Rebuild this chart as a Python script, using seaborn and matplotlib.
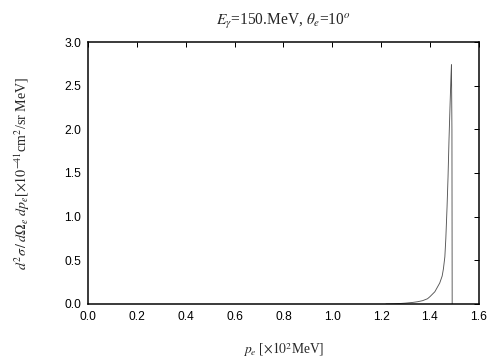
import numpy as np
import pandas as pd
import matplotlib
matplotlib.use("Agg")
import matplotlib.pyplot as plt
import seaborn as sns

sns.set_theme(style="white")
plt.rcParams['font.family'] = ['Liberation Sans', 'DejaVu Sans']
plt.rcParams['mathtext.fontset'] = 'stix'

# Electron momentum (x10^2 MeV) and cross section (x10^-41 cm^2/sr MeV)
p_e = [1.22, 1.25, 1.28, 1.30, 1.33, 1.35, 1.37, 1.39, 1.40, 1.42, 1.44, 1.45,
       1.455, 1.461, 1.465, 1.470, 1.474, 1.478, 1.482, 1.486, 1.488, 1.490, 1.491]
xsec = [0.0, 0.002, 0.006, 0.010, 0.018, 0.026, 0.038, 0.060, 0.084, 0.14, 0.24, 0.32,
        0.40, 0.54, 0.75, 1.11, 1.45, 1.88, 2.25, 2.60, 2.74, 2.0, 0.0]

df = pd.DataFrame({"p_e": p_e, "xsec": xsec})

fig = plt.figure(figsize=(7.0, 5.0), dpi=72)
ax = fig.add_axes([0.1746, 0.1556, 0.7754, 0.7277])

sns.lineplot(data=df, x="p_e", y="xsec", ax=ax, color="#555555", linewidth=0.9)

ax.set_xlim(0, 1.6)
ax.set_ylim(0, 3.0)
ax.set_xticks(np.arange(0, 1.61, 0.2))
ax.set_yticks(np.arange(0, 3.01, 0.5))
ax.xaxis.set_major_formatter(matplotlib.ticker.FormatStrFormatter('%.1f'))
ax.yaxis.set_major_formatter(matplotlib.ticker.FormatStrFormatter('%.1f'))
ax.tick_params(direction='in', length=5, width=1, top=True, right=True,
               labelsize=12, colors='black', pad=7)
for s in ax.spines.values():
    s.set_linewidth(1.5)
    s.set_color('black')

serif = ['Liberation Serif', 'DejaVu Serif']
ax.set_xlabel(r"$p_e$ [$\times10^2$MeV]", fontsize=13.5, family=serif, labelpad=17)
ax.set_ylabel(r"$d^2\sigma\,/\,d\Omega_e\ dp_e$[$\times10^{-41}$cm$^2$/sr MeV]",
              fontsize=14, family=serif, labelpad=32)
ax.set_title(r"$E_\gamma$=150.MeV, $\theta_e$=10$^o$", fontsize=15.5, family=serif, pad=17)

fig.savefig("out.png", dpi=72)
